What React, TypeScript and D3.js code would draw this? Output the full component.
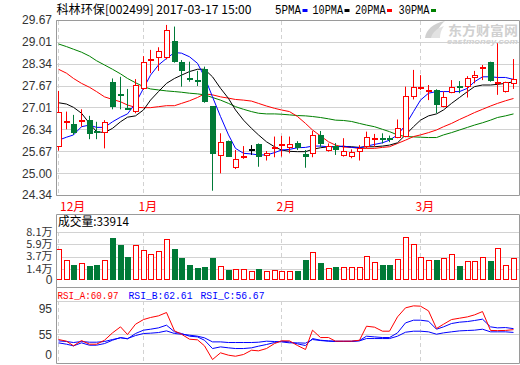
import * as d3 from 'd3'

// 60 trading days, 2016-12-16 .. 2017-03-17
const opens = [25.79, 26.54, 26.49, 26.55, 26.62, 26.30, 26.24, 27.77, 27.42, 27.00, 26.88, 27.57, 28.46, 28.50, 28.50, 29.03, 28.40, 27.89, 27.83, 28.17, 27.05, 25.54, 25.98, 25.17, 25.49, 25.73, 25.88, 25.54, 25.73, 25.83, 25.76, 25.91, 25.59, 25.58, 26.17, 25.68, 25.84, 25.54, 25.51, 25.64, 25.81, 26.01, 26.07, 26.08, 26.09, 26.12, 27.31, 27.60, 27.53, 27.54, 27.03, 27.46, 27.65, 27.64, 27.91, 28.22, 28.38, 27.74, 27.49, 27.71]
const highs = [27.51, 26.88, 26.78, 26.95, 26.75, 26.57, 26.62, 27.89, 27.94, 27.57, 27.87, 28.57, 28.76, 28.84, 29.52, 29.47, 28.45, 28.40, 28.12, 28.25, 27.05, 26.22, 26.00, 25.71, 25.83, 25.86, 25.91, 25.68, 26.12, 26.14, 26.12, 25.98, 25.71, 26.29, 26.29, 25.91, 25.92, 26.07, 25.73, 25.86, 26.27, 26.20, 26.22, 26.15, 26.64, 27.64, 28.15, 27.99, 27.69, 27.56, 27.49, 27.84, 27.81, 27.96, 28.12, 28.30, 28.40, 28.96, 27.79, 28.48]
const lows = [25.69, 26.34, 26.17, 26.42, 26.04, 26.04, 25.76, 26.95, 26.95, 26.93, 26.83, 27.54, 28.05, 28.12, 28.47, 28.37, 27.64, 27.79, 27.66, 27.15, 24.47, 25.00, 25.50, 25.13, 25.44, 25.56, 25.20, 25.39, 25.49, 25.51, 25.61, 25.71, 25.17, 25.49, 25.81, 25.66, 25.56, 25.51, 25.46, 25.39, 25.76, 25.81, 25.91, 25.95, 26.07, 26.10, 27.25, 27.54, 27.23, 26.83, 27.01, 27.44, 27.44, 27.31, 27.74, 27.84, 27.79, 27.39, 27.46, 27.57]
const closes = [26.86, 26.59, 26.24, 26.62, 26.21, 26.28, 26.57, 27.01, 27.40, 26.95, 27.69, 28.38, 28.48, 28.74, 29.37, 28.40, 28.12, 27.86, 27.81, 27.18, 25.58, 25.94, 25.51, 25.44, 25.54, 25.73, 25.51, 25.61, 25.81, 25.89, 25.88, 25.76, 25.51, 26.17, 25.89, 25.84, 25.71, 25.68, 25.66, 25.76, 26.10, 26.07, 26.05, 26.05, 26.37, 27.37, 27.62, 27.62, 27.55, 27.08, 27.31, 27.64, 27.63, 27.89, 27.99, 28.24, 27.82, 27.79, 27.77, 27.86]
// volume, in 万 (10k) shares
const volumes = [5.02, 3.03, 2.17, 2.54, 1.99, 2.17, 3.03, 7.07, 5.86, 3.62, 5.75, 4.84, 4.17, 4.66, 6.84, 5.08, 3.50, 2.17, 1.63, 1.81, 3.44, 1.94, 1.26, 1.39, 1.39, 1.08, 1.45, 1.08, 1.21, 1.08, 1.08, 1.08, 3.08, 4.48, 2.54, 1.57, 1.81, 1.75, 1.75, 1.75, 3.75, 2.72, 2.17, 2.17, 3.21, 7.20, 5.98, 3.57, 3.03, 3.08, 3.39, 4.11, 1.99, 2.84, 2.84, 3.57, 2.90, 5.20, 2.12, 3.39]
const lastVolume = 33914

const ma5 = [26.01, 26.10, 26.17, 26.42, 26.47, 26.40, 26.40, 26.57, 26.71, 26.81, 27.13, 27.59, 27.99, 28.30, 28.50, 28.68, 28.66, 28.55, 28.35, 27.94, 27.33, 26.73, 26.17, 25.76, 25.61, 25.59, 25.56, 25.56, 25.63, 25.71, 25.73, 25.78, 25.79, 25.83, 25.83, 25.81, 25.81, 25.83, 25.79, 25.78, 25.83, 25.88, 25.93, 26.01, 26.17, 26.47, 26.88, 27.23, 27.44, 27.49, 27.49, 27.49, 27.49, 27.59, 27.79, 27.94, 27.94, 27.92, 27.92, 27.86]
const ma10 = [27.15, 27.11, 27.01, 26.83, 26.52, 26.27, 26.24, 26.37, 26.57, 26.71, 26.75, 26.93, 27.23, 27.49, 27.74, 27.89, 27.99, 28.10, 28.17, 28.17, 27.94, 27.59, 27.28, 26.93, 26.62, 26.37, 26.17, 25.96, 25.81, 25.71, 25.67, 25.66, 25.66, 25.73, 25.78, 25.81, 25.81, 25.82, 25.81, 25.79, 25.81, 25.81, 25.83, 25.86, 25.93, 26.17, 26.42, 26.62, 26.75, 26.81, 26.93, 27.13, 27.31, 27.49, 27.64, 27.69, 27.69, 27.71, 27.74, 27.79]
const ma20 = [28.17, 28.05, 27.89, 27.74, 27.62, 27.49, 27.33, 27.25, 27.18, 27.08, 27.01, 27.00, 27.00, 27.03, 27.06, 27.06, 27.13, 27.21, 27.31, 27.42, 27.39, 27.33, 27.29, 27.25, 27.23, 27.20, 27.13, 27.05, 26.98, 26.93, 26.88, 26.73, 26.52, 26.32, 26.14, 25.96, 25.86, 25.80, 25.79, 25.76, 25.76, 25.76, 25.79, 25.81, 25.91, 26.01, 26.12, 26.17, 26.24, 26.32, 26.42, 26.52, 26.64, 26.75, 26.85, 26.95, 27.05, 27.13, 27.21, 27.28]
const ma30 = [28.94, 28.86, 28.78, 28.69, 28.57, 28.43, 28.30, 28.17, 28.03, 27.89, 27.76, 27.64, 27.57, 27.54, 27.51, 27.49, 27.47, 27.44, 27.42, 27.39, 27.31, 27.23, 27.13, 27.03, 26.95, 26.88, 26.83, 26.81, 26.81, 26.80, 26.78, 26.76, 26.75, 26.73, 26.70, 26.66, 26.62, 26.61, 26.58, 26.52, 26.47, 26.42, 26.34, 26.27, 26.17, 26.12, 26.11, 26.10, 26.09, 26.09, 26.17, 26.24, 26.32, 26.40, 26.47, 26.54, 26.62, 26.70, 26.75, 26.81]

const rsiA = [45.6, 43.0, 35.7, 44.0, 38.3, 38.3, 44.5, 56.0, 65.4, 53.4, 69.5, 76.8, 80.0, 82.6, 87.8, 59.1, 53.9, 46.1, 45.1, 35.7, 14.3, 24.8, 21.1, 19.5, 22.2, 28.9, 27.9, 31.5, 39.3, 43.5, 43.5, 36.2, 30.0, 60.2, 48.7, 48.7, 43.0, 43.0, 43.0, 44.5, 66.4, 64.9, 58.6, 58.6, 81.0, 95.1, 98.2, 97.7, 90.4, 62.8, 69.5, 76.8, 78.9, 81.0, 84.1, 89.3, 59.8, 59.5, 59.8, 61.0]
const rsiB = [40.4, 38.3, 35.7, 40.4, 36.7, 36.7, 39.3, 44.5, 48.7, 46.6, 55.0, 60.2, 61.7, 63.8, 68.0, 57.6, 55.0, 50.8, 49.7, 44.5, 31.5, 34.1, 32.6, 31.5, 31.5, 32.6, 35.2, 37.8, 40.9, 43.0, 41.9, 38.8, 36.2, 47.1, 44.5, 43.5, 43.0, 43.0, 43.0, 44.0, 50.8, 49.7, 48.7, 48.7, 56.0, 71.6, 75.8, 75.8, 74.2, 61.7, 65.4, 70.6, 72.7, 73.7, 75.3, 77.4, 65.4, 63.8, 64.3, 62.6]
const rsiC = [43.5, 42.5, 40.9, 42.5, 41.4, 41.4, 42.5, 45.6, 48.2, 47.1, 51.8, 55.0, 55.5, 56.5, 59.1, 55.0, 53.9, 52.4, 50.8, 48.2, 41.9, 41.9, 40.9, 40.9, 40.9, 40.9, 41.4, 43.0, 42.5, 41.9, 40.4, 40.4, 39.9, 45.6, 44.0, 43.0, 42.5, 42.5, 42.5, 43.5, 47.1, 47.1, 47.1, 47.1, 50.8, 57.0, 58.6, 58.6, 57.6, 53.9, 56.0, 57.6, 59.1, 59.7, 60.2, 61.7, 57.6, 57.6, 57.6, 56.7]
const rsiLabels = ['RSI_A:60.97', 'RSI_B:62.61', 'RSI_C:56.67']

const monthLabels = ['12月', '1月', '2月', '3月']
const monthStarts = [0, 11, 29, 47]

const priceTicks = [29.67, 29.01, 28.34, 27.67, 27.01, 26.34, 25.67, 25.0, 24.34]
const volumeTicks = [8.1, 5.9, 3.7, 1.4]
const rsiTicks = [95, 55]

const maNames = ['5PMA', '10PMA', '20PMA', '30PMA']
const maColors = ['#0000ff', '#000000', '#ff0000', '#008000']

const RED = '#ff0000'
const BLUE = '#0000ff'
const GREEN = '#007a37'
const FRAME = '#9a9a9a'
const GRID = '#d2d2d2'
const TXT = '#333333'
const CN = '"Noto Sans CJK SC", sans-serif'
const NUM = '"Liberation Sans", Arial, sans-serif'
const MONO = '"Liberation Mono", "DejaVu Sans Mono", monospace'

const left = 56
const right = 519

const x = d3.scaleLinear().domain([0, 59]).range([57.9, 512.8])
const col = (i: number) => Math.round(x(i))
const priceY = d3.scaleLinear().domain([24.34, 29.67]).range([195, 20])
const volY = d3.scaleLinear().domain([0, 8.1]).range([277, 232.3])
const volBase = 280
const rsiY = d3.scaleLinear().domain([55, 95]).range([333.5, 307.9])

function linePath(values: number[], y: d3.ScaleLinear<number, number>) {
  return d3
    .line<number>()
    .x((_, i) => col(i) + 0.5)
    .y((v) => y(v))(values) as string
}

function Candles() {
  return (
    <g>
      {opens.map((o, i) => {
        const c = closes[i]
        const n = col(i)
        const color = o === c ? '#000' : c > o ? RED : GREEN
        const top = Math.round(priceY(Math.max(o, c)))
        const bot = Math.round(priceY(Math.min(o, c)))
        let body
        if (bot - top < 2) {
          body = <rect x={n - 2} y={top} width={6} height={2} fill={color} />
        } else if (c > o) {
          body = <rect x={n - 1.5} y={top + 0.5} width={5} height={bot - top - 1} fill="#fff" stroke={color} />
        } else {
          body = <rect x={n - 2} y={top} width={6} height={bot - top} fill={color} />
        }
        return (
          <g key={i}>
            <line x1={n + 0.5} x2={n + 0.5} y1={priceY(highs[i])} y2={priceY(lows[i])} stroke={color} />
            {body}
          </g>
        )
      })}
    </g>
  )
}

function VolumeBars() {
  return (
    <g>
      {volumes.map((v, i) => {
        const n = col(i)
        const top = Math.round(volY(v))
        const up = closes[i] >= opens[i]
        return up ? (
          <rect key={i} x={n - 1.5} y={top + 0.5} width={5} height={volBase - top - 1} fill="#fff" stroke={RED} />
        ) : (
          <rect key={i} x={n - 2} y={top} width={6} height={volBase - top} fill={GREEN} />
        )
      })}
    </g>
  )
}

export default function App() {
  const monthX = monthStarts.map((i) => col(i) + 0.5)
  const legendX = [275, 312.5, 355, 398.5]
  const legendW = [26, 30.5, 30.5, 31]
  const rsiX = [57.5, 128.5, 200.5]
  const rsiColors = [RED, BLUE, BLUE]

  return (
    <svg
      width={520}
      height={365}
      style={{ position: 'absolute', left: 0, top: 0, background: '#fff' }}
    >
      <rect width={520} height={365} fill="#fff" />

      {/* title + legend */}
      <text x={56.5} y={14} fontFamily={CN} fontSize={12} fill="#000" textLength={195} lengthAdjust="spacingAndGlyphs">
        科林环保[002499] 2017-03-17 15:00
      </text>
      {maNames.map((name, k) => (
        <g key={name}>
          <text x={legendX[k]} y={14} fontFamily={MONO} fontSize={12} fill="#000" textLength={legendW[k]} lengthAdjust="spacingAndGlyphs">
            {name}
          </text>
          <rect x={legendX[k] + legendW[k] + 1.5} y={9} width={5} height={3} fill={maColors[k]} />
        </g>
      ))}

      {/* watermark */}
      <g fill="#d0d0d0">
        <path d="M425,38 C426,30 433,23 445,21 C440,25 437,30 436,38 Z" />
        <path d="M431,38 C432,33 437,28 444,26 C441,30 440,34 440,38 Z" fill="#e2e2e2" />
        <text x={448} y={35} fontFamily={CN} fontSize={13} fontWeight="bold" textLength={70} lengthAdjust="spacingAndGlyphs">
          东方财富网
        </text>
        <text x={447} y={44} fontFamily={NUM} fontSize={7} fontWeight="bold" fontStyle="italic" textLength={71} lengthAdjust="spacingAndGlyphs">
          eastmoney.com
        </text>
      </g>

      {/* main panel */}
      {priceTicks.map((t) => {
        const yy = Math.round(priceY(t)) + 0.5
        return (
          <g key={t}>
            <line x1={left} x2={right} y1={yy} y2={yy} stroke={GRID} />
            <text x={52} y={priceY(t)} dy="0.35em" textAnchor="end" fontFamily={NUM} fontSize={12} fill={TXT}>
              {t.toFixed(2)}
            </text>
          </g>
        )
      })}
      {monthX.map((mx, k) => (
        <g key={k}>
          <line x1={mx} x2={mx} y1={21} y2={195} stroke={GRID} strokeDasharray="4,3" />
          <line x1={mx} x2={mx} y1={232} y2={280} stroke={GRID} strokeDasharray="4,3" />
          <line x1={mx} x2={mx} y1={301} y2={363} stroke={GRID} strokeDasharray="4,3" />
          <text x={Math.max(mx - 5, 60)} y={211} fontFamily={CN} fontSize={12} fill={RED}>
            {monthLabels[k]}
          </text>
        </g>
      ))}
      {[ma30, ma20, ma10, ma5].map((m, k) => (
        <path key={k} d={linePath(m, priceY)} fill="none" stroke={maColors[3 - k]} strokeWidth={1} />
      ))}
      <Candles />
      <path d={`M${left + 0.5},20.5 H${right + 0.5} V195.5 H${left + 0.5} Z`} fill="none" stroke={FRAME} />

      {/* volume panel */}
      {volumeTicks.map((t) => {
        const yy = Math.round(volY(t)) + 0.5
        return (
          <g key={t}>
            <line x1={left} x2={right} y1={yy} y2={yy} stroke={GRID} />
            <text x={52.5} y={volY(t)} dy="0.35em" textAnchor="end" fontFamily={CN} fontSize={11} fill={TXT}>
              {t.toFixed(1)}万
            </text>
          </g>
        )
      })}
      <text x={52.5} y={volBase} dy="0.35em" textAnchor="end" fontFamily={NUM} fontSize={12} fill={TXT}>
        0
      </text>
      <VolumeBars />
      <text x={58} y={226} fontFamily={CN} fontSize={12} fill="#000" textLength={71} lengthAdjust="spacingAndGlyphs">
        成交量:{lastVolume}
      </text>
      <path d={`M${left + 0.5},214.5 H${right + 0.5} V287.5 H${left + 0.5} Z`} fill="none" stroke={FRAME} />

      {/* RSI panel */}
      <line x1={left} x2={right} y1={301.5} y2={301.5} stroke={GRID} />
      {rsiTicks.map((t) => {
        const yy = Math.round(rsiY(t)) + 0.5
        return (
          <g key={t}>
            {t === 55 && <line x1={left} x2={right} y1={yy} y2={yy} stroke={GRID} />}
            <text x={52} y={rsiY(t) + 1} dy="0.35em" textAnchor="end" fontFamily={NUM} fontSize={12} fill={TXT}>
              {t}
            </text>
          </g>
        )
      })}
      <text x={52} y={355} dy="0.35em" textAnchor="end" fontFamily={NUM} fontSize={12} fill={TXT}>
        0
      </text>
      <path d={linePath(rsiC, rsiY)} fill="none" stroke={BLUE} />
      <path d={linePath(rsiB, rsiY)} fill="none" stroke={BLUE} />
      <path d={linePath(rsiA, rsiY)} fill="none" stroke={RED} />
      {rsiLabels.map((label, k) => (
        <text key={label} x={rsiX[k]} y={298.5} fontFamily={MONO} fontSize={11} fill={rsiColors[k]} textLength={k === 0 ? 61 : 64} lengthAdjust="spacingAndGlyphs">
          {label}
        </text>
      ))}
      <path d={`M${left + 0.5},287.5 H${right + 0.5} V363.5 H${left + 0.5} Z`} fill="none" stroke={FRAME} />
    </svg>
  )
}
